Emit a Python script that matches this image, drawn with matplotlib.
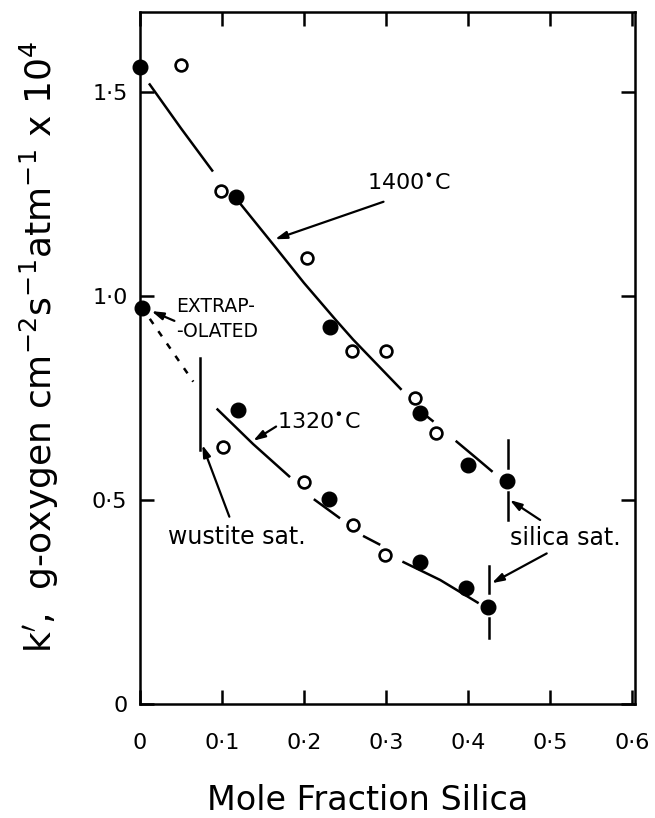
import matplotlib
matplotlib.use('Agg')
import matplotlib.pyplot as plt

plt.rcParams['font.family'] = ['DejaVu Sans']
plt.rcParams['mathtext.fontset'] = 'dejavusans'

# measured points, 1400 C
x1400_filled = [0.0, 0.117, 0.232, 0.341, 0.400, 0.448]
y1400_filled = [1.562, 1.242, 0.923, 0.712, 0.586, 0.547]
x1400_open = [0.050, 0.099, 0.204, 0.259, 0.300, 0.335, 0.361]
y1400_open = [1.566, 1.257, 1.094, 0.864, 0.866, 0.749, 0.665]

# measured points, 1320 C (first filled point is the extrapolated one)
x1320_filled = [0.003, 0.119, 0.230, 0.341, 0.398, 0.425]
y1320_filled = [0.971, 0.721, 0.503, 0.349, 0.284, 0.238]
x1320_open = [0.101, 0.200, 0.260, 0.299]
y1320_open = [0.631, 0.543, 0.438, 0.364]

# hand-drawn curves, broken where they pass the symbols
curve1400 = [
    ([0.011, 0.050, 0.089], [1.521, 1.411, 1.305]),
    ([0.122, 0.165, 0.200, 0.238, 0.260, 0.283, 0.319],
     [1.227, 1.120, 1.032, 0.943, 0.893, 0.845, 0.770]),
    ([0.348, 0.358], [0.708, 0.692]),
    ([0.385, 0.410, 0.430], [0.645, 0.603, 0.569]),
]
curve1320 = [
    ([0.0935, 0.138, 0.183], [0.724, 0.637, 0.556]),
    ([0.212, 0.244], [0.502, 0.455]),
    ([0.272, 0.293], [0.412, 0.390]),
    ([0.320, 0.366, 0.413], [0.349, 0.304, 0.247]),
]
extrap_line = ([0.012, 0.065], [0.944, 0.790])

# saturation limits
wustite_x = 0.073
wustite_y = (0.623, 0.849)
silica_x = [0.449, 0.4256]
silica_y = [[(0.579, 0.647), (0.451, 0.520)], [(0.271, 0.337), (0.161, 0.210)]]

xticks = [0, 0.1, 0.2, 0.3, 0.4, 0.5, 0.6]
xticklabels = ['0', '0·1', '0·2', '0·3', '0·4', '0·5', '0·6']
yticks = [0, 0.5, 1.0, 1.5]
yticklabels = ['0', '0·5', '1·0', '1·5']

fig = plt.figure(figsize=(6.55, 8.18), dpi=100)
ax = fig.add_axes([0.2137, 0.1394, 0.7558, 0.8459])

lw = 1.8
for xs, ys in curve1400 + curve1320:
    ax.plot(xs, ys, color='k', lw=lw, solid_capstyle='butt')
ax.plot(*extrap_line, color='k', lw=lw, dashes=(2.5, 3.5))

ax.plot([wustite_x, wustite_x], wustite_y, color='k', lw=lw)
for sx, pairs in zip(silica_x, silica_y):
    for lo, hi in pairs:
        ax.plot([sx, sx], [lo, hi], color='k', lw=lw)

filled = dict(ls='none', marker='o', color='k', ms=10.5, clip_on=False, zorder=4)
hollow = dict(ls='none', marker='o', mfc='white', mec='k', mew=1.9, ms=8.5,
              clip_on=False, zorder=4)
ax.plot(x1400_filled, y1400_filled, **filled)
ax.plot(x1400_open, y1400_open, **hollow)
ax.plot(x1320_filled, y1320_filled, **filled)
ax.plot(x1320_open, y1320_open, **hollow)

arrow = dict(arrowstyle='-|>,head_length=0.7,head_width=0.22', lw=1.6, color='k',
             shrinkA=0, shrinkB=0)
ax.annotate('', xy=(0.1646, 1.139), xytext=(0.297, 1.231), arrowprops=arrow)
ax.annotate('', xy=(0.138, 0.645), xytext=(0.166, 0.680), arrowprops=arrow)
ax.annotate('', xy=(0.014, 0.963), xytext=(0.042, 0.939), arrowprops=arrow)
ax.annotate('', xy=(0.076, 0.635), xytext=(0.109, 0.459), arrowprops=arrow)
ax.annotate('', xy=(0.451, 0.500), xytext=(0.488, 0.451), arrowprops=arrow)
ax.annotate('', xy=(0.429, 0.296), xytext=(0.496, 0.369), arrowprops=arrow)

ax.text(0.328, 1.275, r'1400$^{\bullet}$C', fontsize=16, ha='center', va='center')
ax.text(0.218, 0.688, r'1320$^{\bullet}$C', fontsize=16, ha='center', va='center')
ax.text(0.0435, 0.973, 'EXTRAP-', fontsize=13.5, ha='left', va='center')
ax.text(0.0435, 0.912, '-OLATED', fontsize=13.5, ha='left', va='center')
ax.text(0.118, 0.410, 'wustite sat.', fontsize=17, ha='center', va='center')
ax.text(0.519, 0.406, 'silica sat.', fontsize=17, ha='center', va='center')

ax.set_xlim(0, 0.6037)
ax.set_ylim(0, 1.696)
ax.set_xticks(xticks)
ax.set_xticklabels(xticklabels)
ax.set_yticks(yticks)
ax.set_yticklabels(yticklabels)
ax.tick_params(direction='in', length=10, width=1.8, top=True, right=True,
               labelsize=16)
ax.tick_params(axis='x', pad=21)
ax.tick_params(axis='y', pad=9)
for sp in ax.spines.values():
    sp.set_linewidth(1.8)

fig.text(0.562, 0.022, 'Mole Fraction Silica', fontsize=24, ha='center', va='center')
fig.text(0.060, 0.576,
         r"k$'$,  g-oxygen cm$^{-2}$s$^{-1}$atm$^{-1}$ x 10$^{4}$",
         fontsize=26, rotation=90, ha='center', va='center')

fig.savefig('out.png', dpi=100)
